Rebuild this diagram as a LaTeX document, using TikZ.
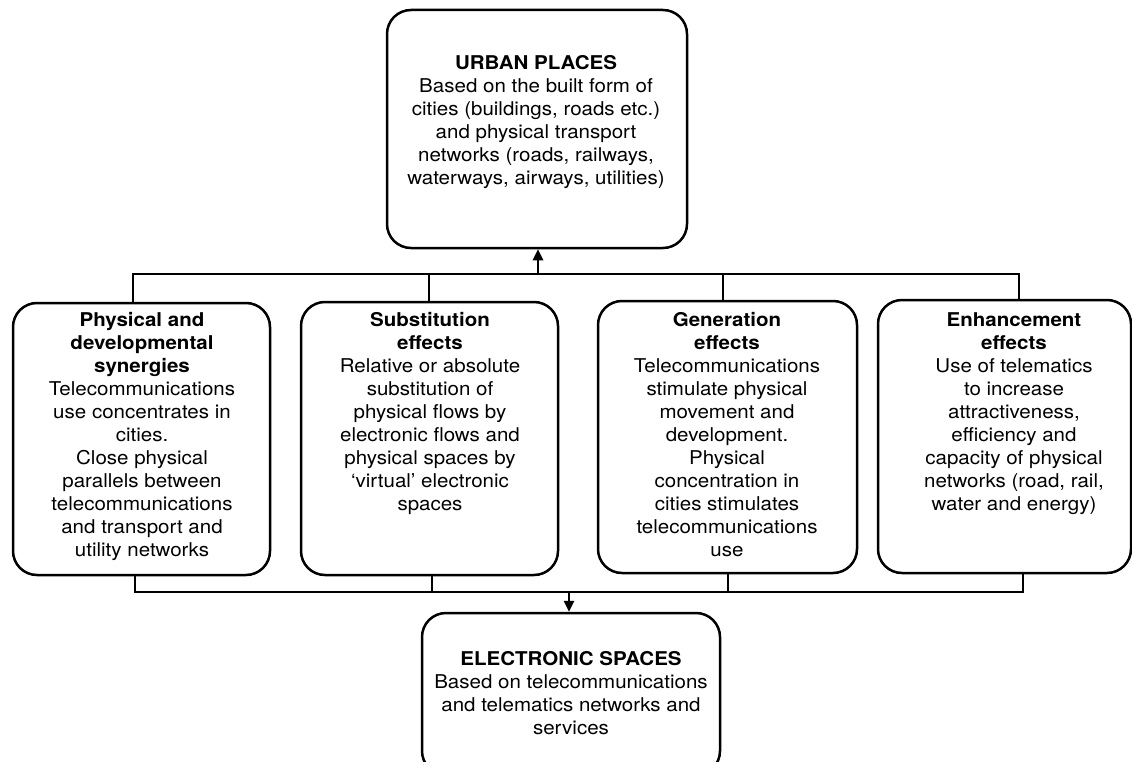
\documentclass[tikz,border=0pt]{standalone}
\usepackage{fontspec}
\setmainfont{TeX Gyre Heros}[FakeStretch=1.08]
\usetikzlibrary{arrows.meta}
\begin{document}
\begin{tikzpicture}[x=1pt,y=-1pt,
  box/.style={draw, line width=2.5pt, rounded corners=24pt, inner sep=0pt},
  txt/.style={align=center, anchor=north, inner sep=0pt, font=\fontsize{19}{23}\selectfont},
  bus/.style={line width=2.5pt},
  arr/.style={line width=2.5pt, -{Triangle[length=11pt,width=10pt]}}]
\useasboundingbox[fill=white] (0,0) rectangle (1132,762);
\clip (0,0) rectangle (1132,762);

% boxes
\node[box, minimum width=300pt, minimum height=238pt] (up) at (537,129) {};
\node[box, minimum width=257pt, minimum height=272pt] (b1) at (141.5,439) {};
\node[box, minimum width=257pt, minimum height=273pt] (b2) at (429.5,438.5) {};
\node[box, minimum width=259pt, minimum height=272pt] (b3) at (727.5,437) {};
\node[box, minimum width=253pt, minimum height=273pt] (b4) at (1004.5,436.5) {};
\node[box, minimum width=298pt, minimum height=162pt] (es) at (571,694) {};

% texts
\node[txt] (upt) at (536,55) {\textbf{URBAN PLACES}\\Based on the built form of\\cities (buildings, roads etc.)\\and physical transport\\networks (roads, railways,\\waterways, airways, utilities)};
\node[txt] (t1) at (142,312) {\textbf{Physical and}\\\textbf{developmental}\\\textbf{synergies}\\Telecommunications\\use concentrates in\\cities.\\Close physical\\parallels between\\telecommunications\\and transport and\\utility networks};
\node[txt] (t2) at (430,312) {\textbf{Substitution}\\\textbf{effects}\\Relative or absolute\\substitution of\\physical flows by\\electronic flows and\\physical spaces by\\‘virtual’ electronic\\spaces};
\node[txt] (t3) at (727,312) {\textbf{Generation}\\\textbf{effects}\\Telecommunications\\stimulate physical\\movement and\\development.\\Physical\\concentration in\\cities stimulates\\telecommunications\\use};
\node[txt] (t4) at (1014,312) {\textbf{Enhancement}\\\textbf{effects}\\Use of telematics\\to increase\\attractiveness,\\efficiency and\\capacity of physical\\networks (road, rail,\\water and energy)};
\node[txt] (est) at (571,651) {\textbf{ELECTRONIC SPACES}\\Based on telecommunications\\and telematics networks and\\services};

% top bus
\coordinate (ta) at (133,274);
\coordinate (tb) at (429,274);
\coordinate (tc) at (723,274);
\coordinate (td) at (1019,274);
\coordinate (tu) at (538,274);
\draw[bus] (ta |- b1.north) -- (ta) -- (td) -- (td |- b4.north);
\draw[bus] (tb) -- (tb |- b2.north);
\draw[bus] (tc) -- (tc |- b3.north);
\draw[arr] (tu) -- (tu |- up.south);

% bottom bus
\coordinate (ba) at (135,592);
\coordinate (bb) at (432,592);
\coordinate (bc) at (728,592);
\coordinate (bd) at (1023,592);
\coordinate (bu) at (569,592);
\draw[bus] (ba |- b1.south) -- (ba) -- (bd) -- (bd |- b4.south);
\draw[bus] (bb |- b2.south) -- (bb);
\draw[bus] (bc |- b3.south) -- (bc);
\draw[arr] (bu) -- (bu |- es.north);
\end{tikzpicture}
\end{document}
